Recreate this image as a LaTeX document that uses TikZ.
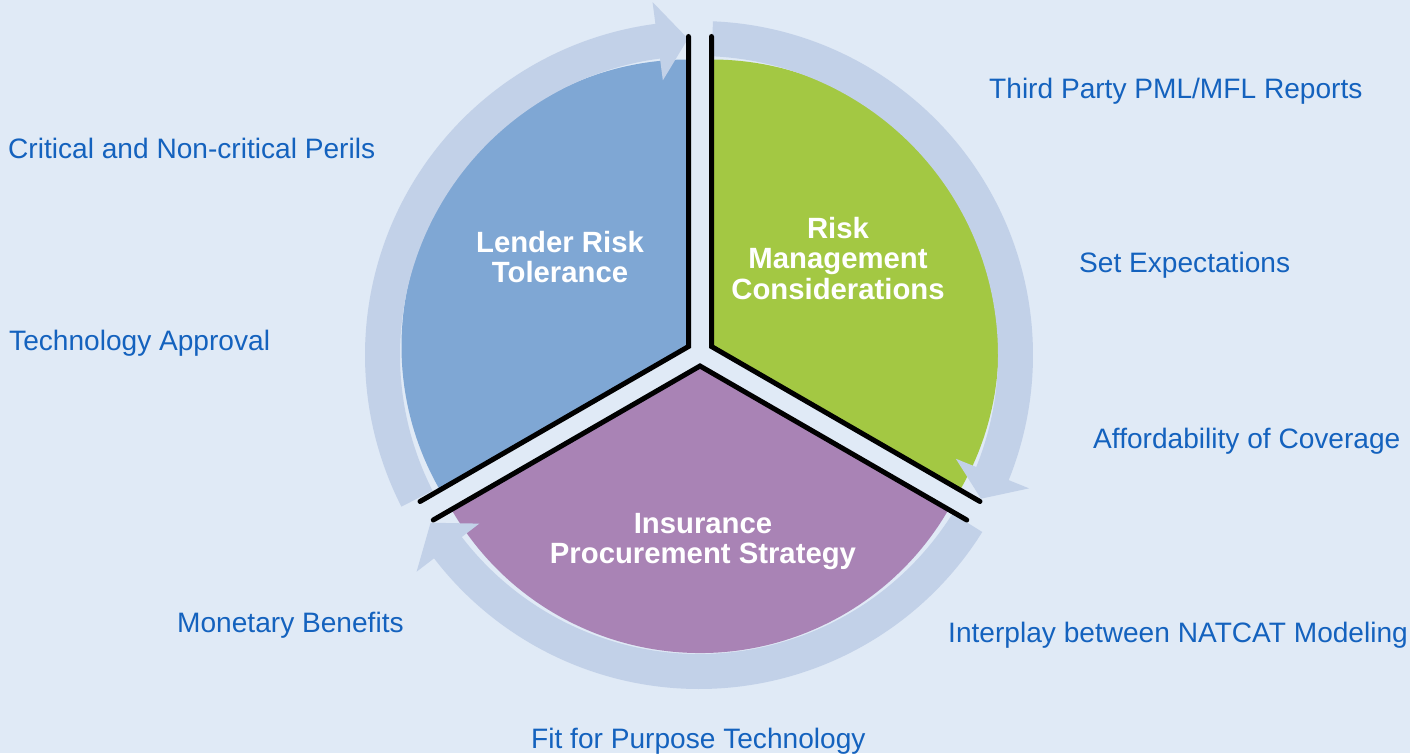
\documentclass[tikz,border=0pt]{standalone}
\usepackage{fontspec}
\setmainfont{Liberation Sans}
\definecolor{bgc}{HTML}{E0EAF6}
\definecolor{ringc}{HTML}{C2D1E8}
\definecolor{bluec}{HTML}{7FA7D4}
\definecolor{greenc}{HTML}{A3C843}
\definecolor{purplec}{HTML}{A983B5}
\definecolor{txtc}{HTML}{1462BE}
\tikzset{
  lbl/.style={anchor=base west, inner sep=0pt, text=txtc, font=\fontsize{28.1}{32}\selectfont},
  seglbl/.style={align=center, inner sep=0pt, text=white, font=\fontsize{29.3}{30.3}\selectfont\bfseries},
  edgeline/.style={black, line width=5pt, line cap=round},
  ringarrow/.style={fill=ringc}
}
\begin{document}
\begin{tikzpicture}[x=1pt,y=1pt]
\useasboundingbox (0,0) rectangle (1410,753);
\fill[bgc] (0,0) rectangle (1410,753);
% segments
\coordinate (SB) at (688.5,406.5);
\coordinate (SG) at (711.5,406.5);
\coordinate (SP) at (700,387);
\fill[bluec] (SB) -- ++(90:287) arc[start angle=90,end angle=210,radius=287] -- cycle;
\fill[greenc] (SG) -- ++(-30:287) arc[start angle=-30,end angle=90,radius=287] -- cycle;
\fill[purplec] (SP) -- ++(210:287) arc[start angle=210,end angle=330,radius=287] -- cycle;
% ring arrows
\begin{scope}[shift={(699,398)}]
\fill[ringarrow] (207:334) arc[start angle=207,end angle=97.5,radius=334] -- (97.5:356) -- (92:316.5) -- (97.5:277) -- (97.5:299) arc[start angle=97.5,end angle=207,radius=299] -- cycle;
\fill[ringarrow] (87.6:334) arc[start angle=87.6,end angle=-22,radius=334] -- (-22:356) -- (-27:316.5) -- (-22:277) -- (-22:299) arc[start angle=-22,end angle=87.6,radius=299] -- cycle;
\fill[ringarrow] (-32:334) arc[start angle=-32,end angle=-142.5,radius=334] -- (-142.5:356) -- (-148:316.5) -- (-142.5:277) -- (-142.5:299) arc[start angle=-142.5,end angle=-32,radius=299] -- cycle;
\end{scope}
% black straight edges
\path (SB) ++(90:310) coordinate (b1) (SB) ++(210:310) coordinate (b2);
\draw[edgeline] (b1) -- (SB) -- (b2);
\path (SG) ++(90:310) coordinate (g1) (SG) ++(-30:310) coordinate (g2);
\draw[edgeline] (g1) -- (SG) -- (g2);
\path (SP) ++(210:308) coordinate (p1) (SP) ++(330:308) coordinate (p2);
\draw[edgeline] (p1) -- (SP) -- (p2);
% segment labels
\node[seglbl] (lrt) at (560,496) {Lender Risk\\Tolerance};
\node[seglbl] (rmc) at (838,494.5) {Risk\\Management\\Considerations};
\node[seglbl] (ips) at (703,211.5) {Insurance\\Procurement Strategy};
% side labels
\node[lbl] (t1) at (989,654) {Third Party PML/MFL Reports};
\node[lbl] (t2) at (8,594) {Critical and Non-critical Perils};
\node[lbl] (t3) at (1079,480) {Set Expectations};
\node[lbl] (t4) at (9,402) {Technology Approval};
\node[lbl] (t5) at (1093,305) {Affordability of Coverage};
\node[lbl] (t6) at (177,121) {Monetary Benefits};
\node[lbl] (t7) at (948,111) {Interplay between NATCAT Modeling};
\node[lbl] (t8) at (531,5) {Fit for Purpose Technology};
\end{tikzpicture}
\end{document}
